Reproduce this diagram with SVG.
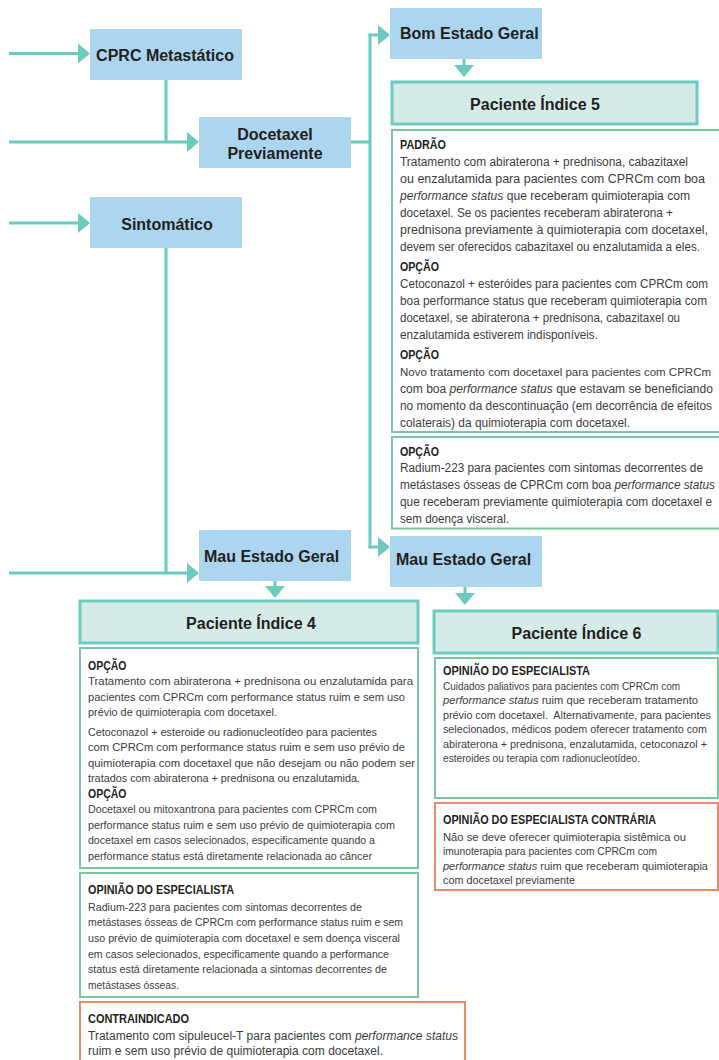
<svg xmlns="http://www.w3.org/2000/svg" width="719" height="1060" viewBox="0 0 719 1060">
  <defs>
    <style>
      .node { fill: #acd5ef; }
      .lbl { font-family: "Liberation Sans", Arial, sans-serif; font-weight: bold; font-size: 16px; fill: #231f20; }
      .pat { fill: #d5ebe8; stroke: #6ccbbf; stroke-width: 3; }
      .card { fill: #ffffff; stroke: #7cc5a1; stroke-width: 2; }
      .warn { fill: #ffffff; stroke: #e98a6e; stroke-width: 2; }
      .hd { font-family: "Liberation Sans", Arial, sans-serif; font-weight: bold; fill: #231f20; }
      .hd1 { font-size: 13.5px; }
      .hd2 { font-size: 12.5px; }
      .tx { font-family: "Liberation Sans", Arial, sans-serif; fill: #3c3c3c; }
      .t1 { font-size: 12px; }
      .t1s { font-size: 11.6px; }
      .t2 { font-size: 11.2px; }
      .t2b { font-size: 10.6px; }
      .t2c { font-size: 12px; }
      .t3 { font-size: 10.5px; }
      .it { font-style: italic; }
      .wire { fill: none; stroke: #6ccbbf; stroke-width: 3; }
    </style>
    <marker id="ah" markerUnits="userSpaceOnUse" viewBox="0 0 12 20" markerWidth="12" markerHeight="20" refX="0.5" refY="10" orient="auto">
      <path d="M0,0 L12,10 L0,20 z" fill="#6ccbbf"/>
    </marker>
  </defs>

  <!-- connectors -->
  <g id="connectors">
    <path class="wire" d="M9,53.5 H78.5" marker-end="url(#ah)"/>
    <path class="wire" d="M166,80 V142"/>
    <path class="wire" d="M9,142 H187.5" marker-end="url(#ah)"/>
    <path class="wire" d="M9,223 H78.5" marker-end="url(#ah)"/>
    <path class="wire" d="M166,248 V573"/>
    <path class="wire" d="M9,573 H187.5" marker-end="url(#ah)"/>
    <path class="wire" d="M351,142 H370"/>
    <path class="wire" d="M370,33.5 V548.5"/>
    <path class="wire" d="M368.5,35 H378.5" marker-end="url(#ah)"/>
    <path class="wire" d="M368.5,547 H378.5" marker-end="url(#ah)"/>
    <path class="wire" d="M464,59 V65.5" marker-end="url(#ah)"/>
    <path class="wire" d="M275,581 V586.5" marker-end="url(#ah)"/>
    <path class="wire" d="M465,587 V593.5" marker-end="url(#ah)"/>
  </g>

  <!-- decision nodes -->
  <g id="cprc">
    <rect class="node" x="90" y="29" width="152" height="51"/>
    <text class="lbl" x="165" y="60.5" text-anchor="middle">CPRC Metastático</text>
  </g>
  <g id="docetaxel">
    <rect class="node" x="199" y="117" width="152" height="51"/>
    <text class="lbl" x="275" y="139.5" text-anchor="middle">Docetaxel</text>
    <text class="lbl" x="275" y="158.5" text-anchor="middle">Previamente</text>
  </g>
  <g id="sintomatico">
    <rect class="node" x="90" y="197" width="152" height="51"/>
    <text class="lbl" x="167" y="229.5" text-anchor="middle">Sintomático</text>
  </g>
  <g id="bom-estado">
    <rect class="node" x="390" y="8" width="152" height="51"/>
    <text class="lbl" x="400" y="39">Bom Estado Geral</text>
  </g>
  <g id="mau-estado-a">
    <rect class="node" x="199" y="530" width="152" height="51"/>
    <text class="lbl" x="204" y="562">Mau Estado Geral</text>
  </g>
  <g id="mau-estado-b">
    <rect class="node" x="390" y="536" width="152" height="51"/>
    <text class="lbl" x="396" y="565">Mau Estado Geral</text>
  </g>

  <!-- patient headers -->
  <g id="paciente-5">
    <rect class="pat" x="392" y="82" width="305" height="42"/>
    <text class="lbl" x="535" y="110" text-anchor="middle">Paciente Índice 5</text>
  </g>
  <g id="paciente-4">
    <rect class="pat" x="80" y="601" width="338" height="42"/>
    <text class="lbl" x="251" y="628.5" text-anchor="middle">Paciente Índice 4</text>
  </g>
  <g id="paciente-6">
    <rect class="pat" x="434" y="611" width="284" height="42"/>
    <text class="lbl" x="576.5" y="638.5" text-anchor="middle">Paciente Índice 6</text>
  </g>

  <!-- index 5 recommendations -->
  <g id="p5-padrao">
    <rect class="card" x="392" y="130" width="335" height="302"/>
    <text class="hd hd1" x="400" y="149" textLength="46" lengthAdjust="spacingAndGlyphs">PADRÃO</text>
    <text class="tx t1" x="400" y="166" textLength="288" lengthAdjust="spacingAndGlyphs">Tratamento com abiraterona + prednisona, cabazitaxel</text>
    <text class="tx t1" x="400" y="183" textLength="305" lengthAdjust="spacingAndGlyphs">ou enzalutamida para pacientes com CPRCm com boa</text>
    <text class="tx t1" x="400" y="200" textLength="290" lengthAdjust="spacingAndGlyphs"><tspan class="it">performance status</tspan> que receberam quimioterapia com</text>
    <text class="tx t1" x="400" y="217" textLength="273" lengthAdjust="spacingAndGlyphs">docetaxel. Se os pacientes receberam abiraterona +</text>
    <text class="tx t1" x="400" y="234" textLength="308" lengthAdjust="spacingAndGlyphs">prednisona previamente à quimioterapia com docetaxel,</text>
    <text class="tx t1" x="400" y="251" textLength="300" lengthAdjust="spacingAndGlyphs">devem ser oferecidos cabazitaxel ou enzalutamida a eles.</text>
    <text class="hd hd1" x="400" y="271" textLength="39" lengthAdjust="spacingAndGlyphs">OPÇÃO</text>
    <text class="tx t1" x="400" y="288" textLength="308" lengthAdjust="spacingAndGlyphs">Cetoconazol + esteróides para pacientes com CPRCm com</text>
    <text class="tx t1" x="400" y="305" textLength="307" lengthAdjust="spacingAndGlyphs">boa performance status que receberam quimioterapia com</text>
    <text class="tx t1" x="400" y="322" textLength="280" lengthAdjust="spacingAndGlyphs">docetaxel, se abiraterona + prednisona, cabazitaxel ou</text>
    <text class="tx t1" x="400" y="339" textLength="198" lengthAdjust="spacingAndGlyphs">enzalutamida estiverem indisponíveis.</text>
    <text class="hd hd1" x="400" y="359" textLength="39" lengthAdjust="spacingAndGlyphs">OPÇÃO</text>
    <text class="tx t1s" x="400" y="376" textLength="311" lengthAdjust="spacingAndGlyphs">Novo tratamento com docetaxel para pacientes com CPRCm</text>
    <text class="tx t1" x="400" y="393" textLength="313" lengthAdjust="spacingAndGlyphs">com boa <tspan class="it">performance status</tspan> que estavam se beneficiando</text>
    <text class="tx t1" x="400" y="410" textLength="312" lengthAdjust="spacingAndGlyphs">no momento da descontinuação (em decorrência de efeitos</text>
    <text class="tx t1" x="400" y="427" textLength="230" lengthAdjust="spacingAndGlyphs">colaterais) da quimioterapia com docetaxel.</text>
  </g>
  <g id="p5-radium">
    <rect class="card" x="392" y="437" width="335" height="91.5"/>
    <text class="hd hd1" x="400" y="455.5" textLength="39" lengthAdjust="spacingAndGlyphs">OPÇÃO</text>
    <text class="tx t1" x="400" y="472" textLength="303" lengthAdjust="spacingAndGlyphs">Radium-223 para pacientes com sintomas decorrentes de</text>
    <text class="tx t1" x="400" y="489" textLength="315" lengthAdjust="spacingAndGlyphs">metástases ósseas de CPRCm com boa <tspan class="it">performance status</tspan></text>
    <text class="tx t1" x="400" y="506" textLength="312" lengthAdjust="spacingAndGlyphs">que receberam previamente quimioterapia com docetaxel e</text>
    <text class="tx t1" x="400" y="523" textLength="109" lengthAdjust="spacingAndGlyphs">sem doença visceral.</text>
  </g>

  <!-- index 4 recommendations -->
  <g id="p4-opcao">
    <rect class="card" x="80" y="648" width="338" height="220"/>
    <text class="hd hd2" x="88" y="669.5" textLength="38.5" lengthAdjust="spacingAndGlyphs">OPÇÃO</text>
    <text class="tx t2" x="88" y="685" textLength="325" lengthAdjust="spacingAndGlyphs">Tratamento com abiraterona + prednisona ou enzalutamida para</text>
    <text class="tx t2" x="88" y="700.5" textLength="317" lengthAdjust="spacingAndGlyphs">pacientes com CPRCm com performance status ruim e sem uso</text>
    <text class="tx t2" x="88" y="716" textLength="189" lengthAdjust="spacingAndGlyphs">prévio de quimioterapia com docetaxel.</text>
    <text class="tx t2" x="88" y="735.5" textLength="289" lengthAdjust="spacingAndGlyphs">Cetoconazol + esteroide ou radionucleotídeo para pacientes</text>
    <text class="tx t2" x="88" y="751" textLength="317" lengthAdjust="spacingAndGlyphs">com CPRCm com performance status ruim e sem uso prévio de</text>
    <text class="tx t2" x="88" y="766.5" textLength="327" lengthAdjust="spacingAndGlyphs">quimioterapia com docetaxel que não desejam ou não podem ser</text>
    <text class="tx t2" x="88" y="782" textLength="272" lengthAdjust="spacingAndGlyphs">tratados com abiraterona + prednisona ou enzalutamida.</text>
    <text class="hd hd2" x="88" y="797.5" textLength="38.5" lengthAdjust="spacingAndGlyphs">OPÇÃO</text>
    <text class="tx t2" x="88" y="813" textLength="289" lengthAdjust="spacingAndGlyphs">Docetaxel ou mitoxantrona para pacientes com CPRCm com</text>
    <text class="tx t2" x="88" y="828.5" textLength="307" lengthAdjust="spacingAndGlyphs">performance status ruim e sem uso prévio de quimioterapia com</text>
    <text class="tx t2" x="88" y="844" textLength="287" lengthAdjust="spacingAndGlyphs">docetaxel em casos selecionados, especificamente quando a</text>
    <text class="tx t2" x="88" y="859.5" textLength="284" lengthAdjust="spacingAndGlyphs">performance status está diretamente relacionada ao câncer</text>
  </g>
  <g id="p4-especialista">
    <rect class="card" x="80" y="873" width="338" height="124"/>
    <text class="hd hd2" x="88" y="894" textLength="146" lengthAdjust="spacingAndGlyphs">OPINIÃO DO ESPECIALISTA</text>
    <text class="tx t2b" x="88" y="910.5" textLength="274" lengthAdjust="spacingAndGlyphs">Radium-223 para pacientes com sintomas decorrentes de</text>
    <text class="tx t2b" x="88" y="926.2" textLength="315" lengthAdjust="spacingAndGlyphs">metástases ósseas de CPRCm com performance status ruim e sem</text>
    <text class="tx t2b" x="88" y="941.9" textLength="312" lengthAdjust="spacingAndGlyphs">uso prévio de quimioterapia com docetaxel e sem doença visceral</text>
    <text class="tx t2b" x="88" y="957.6" textLength="301" lengthAdjust="spacingAndGlyphs">em casos selecionados, especificamente quando a performance</text>
    <text class="tx t2b" x="88" y="973.3" textLength="299" lengthAdjust="spacingAndGlyphs">status está diretamente relacionada a sintomas decorrentes de</text>
    <text class="tx t2b" x="88" y="989" textLength="91" lengthAdjust="spacingAndGlyphs">metástases ósseas.</text>
  </g>
  <g id="p4-contraindicado">
    <rect class="warn" x="80" y="1002" width="385" height="70"/>
    <text class="hd hd2" x="88" y="1023" textLength="101" lengthAdjust="spacingAndGlyphs">CONTRAINDICADO</text>
    <text class="tx t2c" x="88" y="1039.5" textLength="370" lengthAdjust="spacingAndGlyphs">Tratamento com sipuleucel-T para pacientes com <tspan class="it">performance status</tspan></text>
    <text class="tx t2c" x="88" y="1055" textLength="295" lengthAdjust="spacingAndGlyphs">ruim e sem uso prévio de quimioterapia com docetaxel.</text>
  </g>

  <!-- index 6 recommendations -->
  <g id="p6-especialista">
    <rect class="card" x="435" y="658" width="283" height="140"/>
    <text class="hd hd2" x="443" y="675" textLength="147" lengthAdjust="spacingAndGlyphs">OPINIÃO DO ESPECIALISTA</text>
    <text class="tx t3" x="443" y="689.5" textLength="237" lengthAdjust="spacingAndGlyphs">Cuidados paliativos para pacientes com CPRCm com</text>
    <text class="tx t3" x="443" y="704" textLength="255" lengthAdjust="spacingAndGlyphs"><tspan class="it">performance status</tspan> ruim que receberam tratamento</text>
    <text class="tx t3" x="443" y="718.5" textLength="268" lengthAdjust="spacingAndGlyphs" xml:space="preserve">prévio com docetaxel.  Alternativamente, para pacientes</text>
    <text class="tx t3" x="443" y="733" textLength="264" lengthAdjust="spacingAndGlyphs">selecionados, médicos podem oferecer tratamento com</text>
    <text class="tx t3" x="443" y="747.5" textLength="264" lengthAdjust="spacingAndGlyphs">abiraterona + prednisona, enzalutamida, cetoconazol +</text>
    <text class="tx t3" x="443" y="762" textLength="197" lengthAdjust="spacingAndGlyphs">esteroides ou terapia com radionucleotídeo.</text>
  </g>
  <g id="p6-contraria">
    <rect class="warn" x="435" y="803" width="283" height="87"/>
    <text class="hd hd2" x="443" y="824" textLength="213" lengthAdjust="spacingAndGlyphs">OPINIÃO DO ESPECIALISTA CONTRÁRIA</text>
    <text class="tx t3" x="443" y="840.5" textLength="243" lengthAdjust="spacingAndGlyphs">Não se deve oferecer quimioterapia sistêmica ou</text>
    <text class="tx t3" x="443" y="855" textLength="214" lengthAdjust="spacingAndGlyphs">imunoterapia para pacientes com CPRCm com</text>
    <text class="tx t3" x="443" y="869.5" textLength="265" lengthAdjust="spacingAndGlyphs"><tspan class="it">performance status</tspan> ruim que receberam quimioterapia</text>
    <text class="tx t3" x="443" y="884" textLength="132" lengthAdjust="spacingAndGlyphs">com docetaxel previamente</text>
  </g>
</svg>
